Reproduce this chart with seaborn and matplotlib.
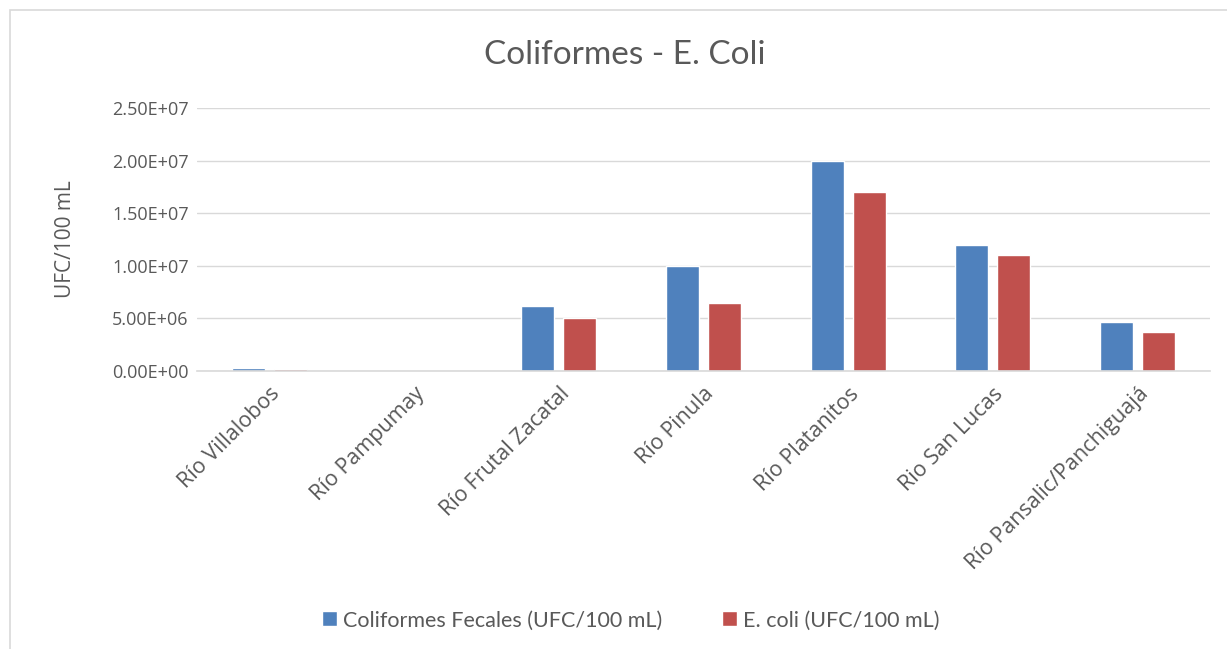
import matplotlib
matplotlib.use('Agg')
import matplotlib.pyplot as plt
from matplotlib.patches import Rectangle, Patch
import numpy as np
import pandas as pd
import seaborn as sns

rios = ['Río Villalobos', 'Río Pampumay', 'Río Frutal Zacatal', 'Río Pinula',
        'Río Platanitos', 'Rio San Lucas', 'Río Pansalic/Panchiguajá']
coliformes = [2.5e5, 0, 6.2e6, 1.0e7, 2.0e7, 1.2e7, 4.7e6]
ecoli = [1.8e5, 0, 5.0e6, 6.5e6, 1.7e7, 1.1e7, 3.7e6]
series = ['Coliformes Fecales (UFC/100 mL)', 'E. coli (UFC/100 mL)']
colores = ['#4f81bd', '#c0504d']

df = pd.DataFrame({'rio': rios * 2,
                   'serie': [series[0]] * len(rios) + [series[1]] * len(rios),
                   'valor': coliformes + ecoli})

sns.set_style('white')
plt.rcParams['font.family'] = ['Lato', 'DejaVu Sans']
gris = '#595959'
sans = ['Open Sans', 'DejaVu Sans']

fig = plt.figure(figsize=(12.27, 6.49), dpi=100)
ax = fig.add_axes([0.1606, 0.4284, 0.8254, 0.4052])

sns.barplot(data=df, x='rio', y='valor', hue='serie', palette=colores,
            width=0.58, gap=0.214, ax=ax, legend=False, saturation=1)

ax.set_ylim(0, 2.5e7)
ax.set_xlim(-0.5, len(rios) - 0.5)
ax.set_yticks(np.arange(0, 2.51e7, 5e6))
ax.set_yticklabels(['{:.2E}'.format(v) for v in ax.get_yticks()],
                   fontfamily=sans, fontsize=13)
ax.grid(axis='y', color='#d9d9d9', linewidth=1)
ax.set_axisbelow(True)
for s in ['top', 'right', 'left']:
    ax.spines[s].set_visible(False)
ax.spines['bottom'].set_color('#d9d9d9')
ax.spines['bottom'].set_linewidth(1.2)
ax.tick_params(axis='both', length=0, colors=gris)
ax.tick_params(axis='y', pad=6)
ax.tick_params(axis='x', pad=9)
ax.set_xlabel('')
ax.set_ylabel('UFC/100 mL', fontsize=15, color=gris, labelpad=26,
              fontfamily=sans)
ax.set_xticks(range(len(rios)))
ax.set_xticklabels(rios, rotation=45, ha='right', rotation_mode='anchor',
                   fontfamily=sans, fontsize=15.5, color=gris)

fig.text(0.509, 0.916, 'Coliformes - E. Coli', ha='center', va='center',
         fontsize=24, color=gris)

handles = [Patch(facecolor=c) for c in colores]
fig.legend(handles, series, loc='center', bbox_to_anchor=(0.514, 0.044),
           ncol=2, frameon=False, fontsize=15.5, labelcolor=gris,
           handlelength=0.7, handleheight=0.7, handletextpad=0.25,
           columnspacing=2.8)

fig.patches.append(Rectangle((0.008, -0.01), 1.2, 0.995, transform=fig.transFigure,
                             fill=False, edgecolor='#d9d9d9', linewidth=1.2))

fig.savefig('out.png', dpi=100)
